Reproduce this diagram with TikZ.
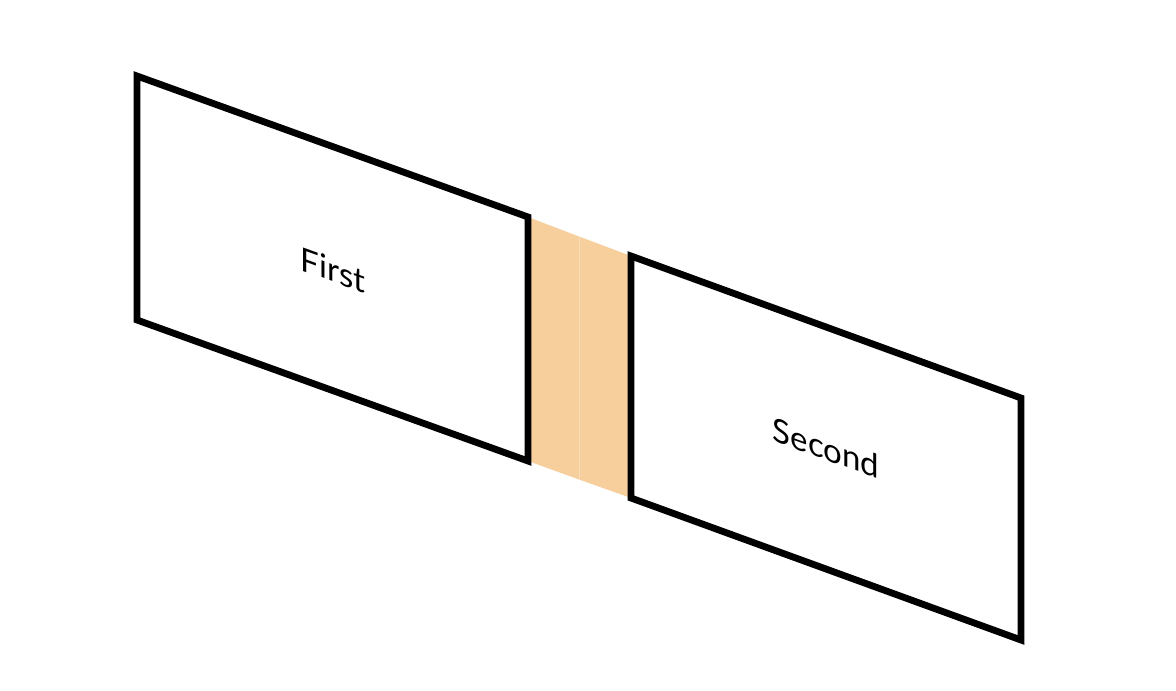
\documentclass[tikz,border=0pt]{standalone}
\usepackage{fontspec}
\setmainfont{Lato}
\usepackage{xcolor}
\definecolor{bandorange}{HTML}{F7CF9D}

\begin{document}
\begin{tikzpicture}[x=0.5pt, y=-0.5pt,
  panel/.style={draw=black, line width=3.4pt, line join=miter, fill=white},
  tag/.style={font=\fontsize{16.5}{19}\selectfont, yslant=-0.36, inner sep=0pt}]
  \useasboundingbox (0,0) rectangle (1176,690);
  % corners
  \coordinate (a1) at (137,76);  \coordinate (a2) at (528,217);
  \coordinate (a3) at (528,461); \coordinate (a4) at (137,320);
  \coordinate (b1) at (631,256); \coordinate (b2) at (1021,398);
  \coordinate (b3) at (1021,640); \coordinate (b4) at (631,498);
  \coordinate (m1) at (579,236.5); \coordinate (m2) at (579,479.5);
  % joint between the two panels
  \fill[bandorange] (a2) -- (m1) -- (m2) -- (a3) -- cycle;
  \fill[bandorange] (m1) -- (b1) -- (b4) -- (m2) -- cycle;
  \draw[bandorange!70!white, line width=0.4pt] (m1) -- (m2);
  \draw[panel] (a1) -- (a2) -- (a3) -- (a4) -- cycle;
  \draw[panel] (b1) -- (b2) -- (b3) -- (b4) -- cycle;
  \node[tag] (first) at (333,270) {First};
  \node[tag] (second) at (826,448) {Second};
\end{tikzpicture}
\end{document}
